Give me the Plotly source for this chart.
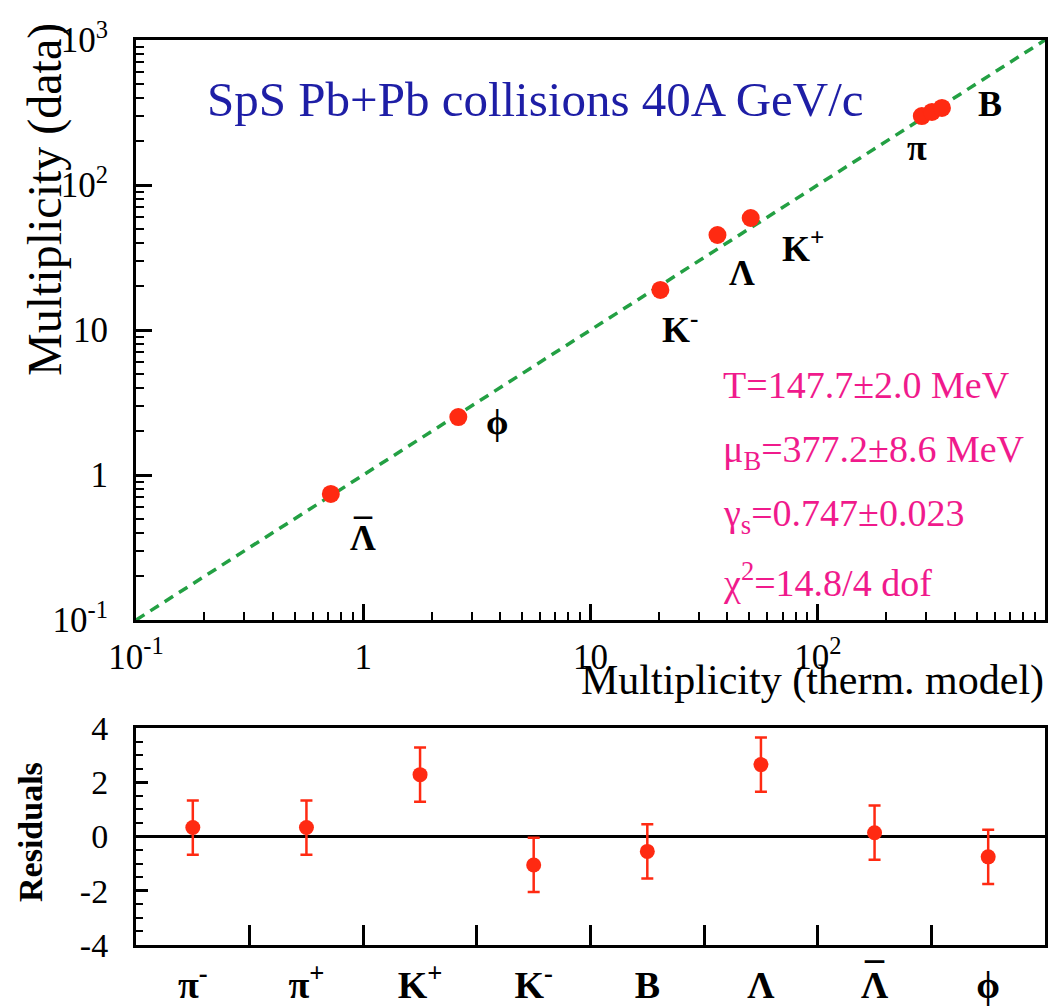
import plotly.graph_objects as go

# ---------------- data ----------------
species = ["Λ̄", "ϕ", "K⁻", "Λ", "K⁺", "π⁺", "π⁻", "B"]
model_mult = [0.72, 2.62, 20.3, 36.2, 50.7, 287, 318, 352]
data_mult = [0.74, 2.51, 18.9, 45.2, 59.2, 299, 319, 340]

diag_line = [0.1, 1000]

res_labels = ["π<sup>-</sup>", "π<sup>+</sup>", "K<sup>+</sup>", "K<sup>-</sup>", "B", "Λ", "Λ", "ϕ"]
res_values = [0.33, 0.33, 2.28, -1.05, -0.55, 2.65, 0.14, -0.75]
res_errors = [1.0, 1.0, 1.0, 1.0, 1.0, 1.0, 1.0, 1.0]

x_tickvals = [0.1, 1, 10, 100]
x_ticktext = ["10<sup>-1</sup>", "1", "10", "10<sup>2</sup>"]
y_tickvals = [0.1, 1, 10, 100, 1000]
y_ticktext = ["10<sup>-1</sup>", "1", "10", "10<sup>2</sup>", "10<sup>3</sup>"]
res_tickvals = [-4, -2, 0, 2, 4]
res_ticktext = ["-4", "-2", "0", "2", "4"]

# ---------------- style ----------------
W, H = 1049, 1008
FONT = "Liberation Serif, Times New Roman, serif"
RED = "#ff2a12"
GREEN = "#23a043"
BLUE = "#1e1ea6"
PINK = "#f01a8c"


def px(x):
    return x / W


def py(y):
    return 1 - y / H


minor_log = [m * 10 ** e for e in range(-1, 3) for m in range(2, 10)]
cat_idx = list(range(len(res_labels)))
boundaries = [i + 0.5 for i in cat_idx[:-1]]

fig = go.Figure()

fig.add_trace(go.Scatter(
    x=diag_line, y=diag_line, mode="lines",
    line=dict(color=GREEN, width=3.5, dash="10px,7px"),
    xaxis="x", yaxis="y", showlegend=False, hoverinfo="skip"))

fig.add_trace(go.Scatter(
    x=model_mult, y=data_mult, mode="markers", text=species,
    marker=dict(color=RED, size=18, line=dict(width=0)),
    xaxis="x", yaxis="y", showlegend=False))

fig.add_trace(go.Scatter(
    x=cat_idx, y=res_values, mode="markers",
    marker=dict(color=RED, size=15, line=dict(width=0)),
    error_y=dict(type="data", array=res_errors, color=RED, thickness=2.5, width=6),
    xaxis="x2", yaxis="y2", showlegend=False))

axis_common = dict(showline=True, linecolor="black", linewidth=3, mirror=True,
                   showgrid=False, zeroline=False, ticks="inside", tickcolor="black",
                   tickwidth=2.5, automargin=False,
                   tickfont=dict(family=FONT, size=35, color="black"))

x_dom = [px(136), px(1045)]

fig.update_layout(
    template="none",
    width=W, height=H,
    margin=dict(l=0, r=0, t=0, b=0, pad=0),
    paper_bgcolor="white", plot_bgcolor="white",
    font=dict(family=FONT, color="black"),
    showlegend=False,
    xaxis=dict(axis_common, type="log", range=[-1, 3], domain=x_dom, anchor="y",
               tickvals=x_tickvals, ticktext=x_ticktext, ticklen=16,
               ticklabelstandoff=4,
               minor=dict(tickvals=minor_log, ticks="inside", ticklen=8,
                          tickwidth=2, tickcolor="black", showgrid=False)),
    yaxis=dict(axis_common, type="log", range=[-1, 3], domain=[py(620), py(40)], anchor="x",
               tickvals=y_tickvals, ticktext=y_ticktext, ticklen=16,
               ticklabelstandoff=18,
               minor=dict(tickvals=minor_log + [m * 100 for m in range(2, 10)],
                          ticks="inside", ticklen=8, tickwidth=2,
                          tickcolor="black", showgrid=False)),
    xaxis2=dict(axis_common, range=[-0.5, 7.5], domain=x_dom, anchor="y2",
                tickvals=cat_idx, ticktext=res_labels, ticklen=0, ticks="",
                ticklabelstandoff=4,
                tickfont=dict(family=FONT, size=38, color="black", weight="bold"),
                minor=dict(tickvals=boundaries, ticks="inside", ticklen=20,
                           tickwidth=2.5, tickcolor="black", showgrid=False)),
    yaxis2=dict(axis_common, range=[-4, 4], domain=[py(945), py(728)], anchor="x2",
                tickvals=res_tickvals, ticktext=res_ticktext, ticklen=12,
                ticklabelstandoff=18,
                tickfont=dict(family=FONT, size=34, color="black"),
                zeroline=True, zerolinecolor="black", zerolinewidth=3,
                minor=dict(dtick=0.5, ticks="inside", ticklen=7, tickwidth=2,
                           tickcolor="black", showgrid=False)),
)

ann = []


def add_text(text, x, y, size, color="black", xanchor="center", yanchor="middle",
             textangle=0, bold=False):
    ann.append(dict(text=text, x=px(x), y=py(y), xref="paper", yref="paper",
                    showarrow=False, xanchor=xanchor, yanchor=yanchor,
                    textangle=textangle,
                    font=dict(family=FONT, size=size, color=color,
                              weight="bold" if bold else "normal")))


add_text("SpS Pb+Pb collisions 40A GeV/c", 535, 100, 49, BLUE)
add_text("T=147.7±2.0 MeV", 721, 385, 38, PINK, xanchor="left")
add_text("μ<sub>B</sub>=377.2±8.6 MeV", 721, 452, 38, PINK, xanchor="left")
add_text("γ<sub>s</sub>=0.747±0.023", 721, 516, 38, PINK, xanchor="left")
add_text("χ<sup>2</sup>=14.8/4 dof", 721, 580, 38, PINK, xanchor="left")

add_text("B", 990, 104, 36, bold=True)
add_text("π", 917, 148, 36, bold=True)
add_text("K<sup>+</sup>", 803, 246, 36, bold=True)
add_text("Λ", 742, 273, 36, bold=True)
add_text("K<sup>-</sup>", 680, 328, 36, bold=True)
add_text("ϕ", 497, 422, 36, bold=True)
add_text("Λ", 363, 538, 36, bold=True)
add_text("¯", 363, 532, 36, bold=True)

# macron over the anti-Lambda tick label of the residual panel
ann.append(dict(text="¯", x=6, xref="x2", y=py(976), yref="paper", showarrow=False,
                xanchor="center", yanchor="middle",
                font=dict(family=FONT, size=38, color="black", weight="bold")))

add_text("Multiplicity (data)", 45, 200, 48, textangle=-90)
add_text("Multiplicity (therm. model)", 1046, 680, 42, xanchor="right")
add_text("Residuals", 30, 832, 34, textangle=-90, bold=True)

fig.update_layout(annotations=ann)

fig.write_html("out.html",
               config={"displayModeBar": False},
               post_script="document.body.style.margin='0px';"
                           "document.body.style.overflow='hidden';")
